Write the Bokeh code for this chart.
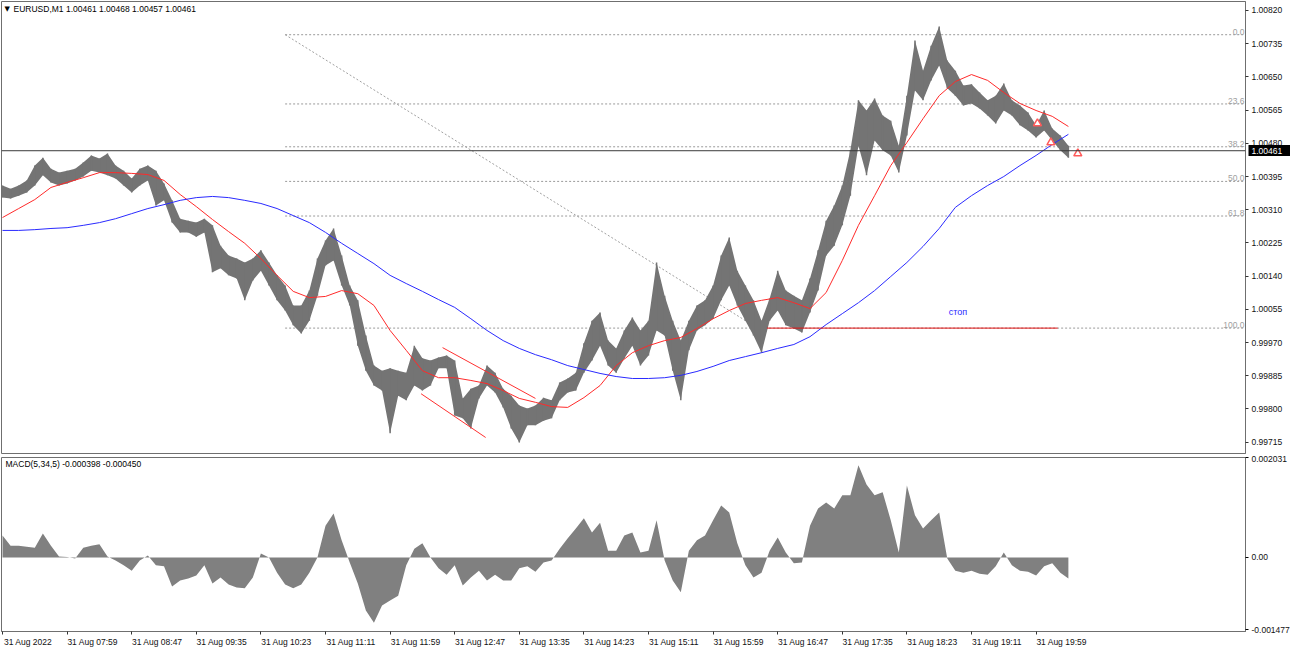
from bokeh.plotting import figure
from bokeh.layouts import column
from bokeh.models import Range1d, FixedTicker, Label, Span, PrintfTickFormatter, LinearAxis
from bokeh.core.properties import value
from bokeh.embed import file_html
from bokeh.resources import INLINE

FONT = "Liberation Sans"

symbol_title = "EURUSD,M1  1.00461 1.00468 1.00457 1.00461"
macd_title = "MACD(5,34,5) -0.000398 -0.000450"

# price samples, one every 6 minutes starting 31 Aug 07:11 (minute index 0)
sample_minutes = 6
bar_high = [
    1.00372, 1.00364, 1.00372, 1.00385, 1.00423, 1.00443, 1.00415, 1.00405, 1.00410, 1.00415,
    1.00431, 1.00449, 1.00441, 1.00454, 1.00423, 1.00410, 1.00390, 1.00415, 1.00423, 1.00410,
    1.00377, 1.00334, 1.00287, 1.00282, 1.00277, 1.00287, 1.00270, 1.00218, 1.00193, 1.00185,
    1.00175, 1.00185, 1.00206, 1.00175, 1.00142, 1.00116, 1.00065, 1.00065, 1.00103, 1.00185,
    1.00231, 1.00262, 1.00193, 1.00116, 1.00078, 0.99988, 0.99911, 0.99898, 0.99904, 0.99898,
    0.99893, 0.99962, 0.99930, 0.99924, 0.99932, 0.99937, 0.99924, 0.99827, 0.99852, 0.99860,
    0.99911, 0.99893, 0.99852, 0.99834, 0.99809, 0.99801, 0.99809, 0.99829, 0.99822, 0.99868,
    0.99878, 0.99893, 0.99968, 1.00026, 1.00047, 0.99975, 0.99955, 1.00001, 1.00034, 1.00001,
    1.00026, 1.00175, 1.00090, 1.00026, 0.99975, 1.00026, 1.00065, 1.00078, 1.00116, 1.00193,
    1.00239, 1.00154, 1.00116, 1.00078, 1.00026, 1.00083, 1.00154, 1.00103, 1.00090, 1.00078,
    1.00134, 1.00206, 1.00282, 1.00321, 1.00372, 1.00462, 1.00590, 1.00564, 1.00595, 1.00551,
    1.00538, 1.00474, 1.00602, 1.00743, 1.00666, 1.00730, 1.00779, 1.00692, 1.00666, 1.00628,
    1.00631, 1.00610, 1.00590, 1.00602, 1.00633, 1.00590, 1.00577, 1.00559, 1.00526, 1.00564,
    1.00518, 1.00500, 1.00474,
]
bar_low = [
    1.00341, 1.00339, 1.00346, 1.00354, 1.00372, 1.00398, 1.00380, 1.00372, 1.00377, 1.00385,
    1.00395, 1.00410, 1.00405, 1.00398, 1.00390, 1.00372, 1.00354, 1.00372, 1.00385, 1.00321,
    1.00334, 1.00277, 1.00252, 1.00252, 1.00241, 1.00252, 1.00150, 1.00160, 1.00142, 1.00134,
    1.00078, 1.00129, 1.00154, 1.00116, 1.00078, 1.00052, 1.00014, 0.99993, 1.00026, 1.00090,
    1.00167, 1.00180, 1.00116, 1.00065, 0.99962, 0.99898, 0.99860, 0.99847, 0.99738, 0.99834,
    0.99822, 0.99860, 0.99847, 0.99860, 0.99904, 0.99904, 0.99783, 0.99776, 0.99750, 0.99827,
    0.99860, 0.99842, 0.99804, 0.99750, 0.99714, 0.99758, 0.99758, 0.99770, 0.99776, 0.99822,
    0.99842, 0.99847, 0.99893, 0.99924, 0.99962, 0.99911, 0.99893, 0.99929, 0.99962, 0.99911,
    0.99937, 1.00001, 0.99988, 0.99898, 0.99822, 0.99950, 1.00001, 1.00014, 1.00031, 1.00078,
    1.00116, 1.00065, 1.00026, 0.99988, 0.99944, 1.00026, 1.00052, 1.00014, 1.00006, 0.99996,
    1.00047, 1.00103, 1.00193, 1.00218, 1.00270, 1.00346, 1.00474, 1.00398, 1.00487, 1.00462,
    1.00449, 1.00405, 1.00500, 1.00615, 1.00590, 1.00641, 1.00679, 1.00621, 1.00602, 1.00577,
    1.00582, 1.00569, 1.00551, 1.00531, 1.00564, 1.00551, 1.00526, 1.00513, 1.00495, 1.00513,
    1.00487, 1.00462, 1.00443,
]

# moving averages, one value every 12 minutes
ma_minutes = 12
ma_red = [
    1.00290, 1.00313, 1.00336, 1.00367, 1.00380, 1.00392, 1.00405, 1.00405, 1.00403, 1.00400,
    1.00385, 1.00349, 1.00318, 1.00285, 1.00254, 1.00224, 1.00185, 1.00142, 1.00101, 1.00085,
    1.00088, 1.00103, 1.00095, 1.00065, 1.00001, 0.99950, 0.99898, 0.99880, 0.99880, 0.99873,
    0.99865, 0.99847, 0.99827, 0.99817, 0.99806, 0.99804, 0.99829, 0.99860, 0.99911, 0.99944,
    0.99962, 0.99975, 0.99983, 1.00006, 1.00031, 1.00052, 1.00070, 1.00078, 1.00085, 1.00072,
    1.00057, 1.00098, 1.00180, 1.00270, 1.00346, 1.00423, 1.00482, 1.00543, 1.00602, 1.00638,
    1.00656, 1.00641, 1.00610, 1.00582, 1.00564, 1.00549, 1.00523,
]
ma_blue = [
    1.00257, 1.00257, 1.00259, 1.00262, 1.00264, 1.00270, 1.00277, 1.00287, 1.00300, 1.00313,
    1.00323, 1.00334, 1.00341, 1.00344, 1.00341, 1.00334, 1.00326, 1.00313, 1.00295, 1.00277,
    1.00252, 1.00224, 1.00198, 1.00172, 1.00142, 1.00121, 1.00101, 1.00080, 1.00060, 1.00031,
    1.00001, 0.99975, 0.99955, 0.99939, 0.99926, 0.99911, 0.99901, 0.99891, 0.99883, 0.99878,
    0.99878, 0.99880, 0.99886, 0.99896, 0.99909, 0.99924, 0.99934, 0.99944, 0.99955, 0.99965,
    0.99985, 1.00016, 1.00044, 1.00072, 1.00103, 1.00139, 1.00175, 1.00216, 1.00262, 1.00316,
    1.00346, 1.00372, 1.00395, 1.00423, 1.00449, 1.00477, 1.00503,
]

# MACD histogram, one value every 6 minutes
macd_hist = [
    0.00045, 0.00024, 0.00024, 0.00022, 0.00020, 0.00049, 0.00024, 0.00002, 0.00001, -0.00002,
    0.00020, 0.00024, 0.00027, 0.00002, -0.00006, -0.00016, -0.00027, -0.00006, 0.00004, -0.00016,
    -0.00018, -0.00059, -0.00047, -0.00043, -0.00037, -0.00016, -0.00053, -0.00041, -0.00055, -0.00061,
    -0.00063, -0.00041, 0.00008, 0.00000, -0.00031, -0.00055, -0.00063, -0.00055, -0.00031, 0.00000,
    0.00065, 0.00090, 0.00035, -0.00010, -0.00053, -0.00108, -0.00133, -0.00098, -0.00088, -0.00078,
    -0.00016, 0.00018, 0.00029, 0.00000, -0.00022, -0.00035, -0.00016, -0.00057, -0.00041, -0.00027,
    -0.00047, -0.00035, -0.00047, -0.00047, -0.00022, -0.00018, -0.00029, -0.00010, -0.00006, 0.00018,
    0.00039, 0.00059, 0.00080, 0.00051, 0.00071, 0.00014, 0.00014, 0.00045, 0.00051, 0.00010,
    0.00014, 0.00076, -0.00006, -0.00047, -0.00071, 0.00014, 0.00035, 0.00045, 0.00076, 0.00106,
    0.00092, 0.00029, -0.00016, -0.00041, -0.00031, 0.00014, 0.00041, 0.00010, -0.00012, -0.00010,
    0.00065, 0.00100, 0.00112, 0.00100, 0.00127, 0.00127, 0.00188, 0.00149, 0.00127, 0.00133,
    0.00076, 0.00010, 0.00147, 0.00086, 0.00059, 0.00076, 0.00092, -0.00002, -0.00027, -0.00031,
    -0.00027, -0.00033, -0.00035, -0.00018, 0.00010, -0.00016, -0.00027, -0.00029, -0.00037, -0.00018,
    -0.00012, -0.00031, -0.00043,
]

time_tick_minutes = [0, 48, 96, 144, 192, 240, 288, 336, 384, 432, 480, 528, 576, 624, 672, 720, 768]
time_tick_labels = ["31 Aug 2022", "31 Aug 07:59", "31 Aug 08:47", "31 Aug 09:35", "31 Aug 10:23",
                    "31 Aug 11:11", "31 Aug 11:59", "31 Aug 12:47", "31 Aug 13:35", "31 Aug 14:23",
                    "31 Aug 15:11", "31 Aug 15:59", "31 Aug 16:47", "31 Aug 17:35", "31 Aug 18:23",
                    "31 Aug 19:11", "31 Aug 19:59"]
price_ticks = [1.00820, 1.00735, 1.00650, 1.00565, 1.00480, 1.00395, 1.00310, 1.00225,
               1.00140, 1.00055, 0.99970, 0.99885, 0.99800, 0.99715]
macd_ticks = [0.002031, 0.0, -0.001477]
macd_tick_labels = ["0.002031", "0.00", "-0.001477"]
last_price = 1.00461

# Fibonacci retracement anchors (minute, price)
fib_t0, fib_p0 = 210, 1.00758
fib_t1, fib_p1 = 561, 1.00007
fib_levels = [0.0, 23.6, 38.2, 50.0, 61.8, 100.0]
fib_labels = ["0.0", "23.6", "38.2", "50.0", "61.8", "100.0"]

# stop line and text
stop_t0, stop_t1, stop_price = 568, 784, 1.00007
stop_text_t, stop_text_p = 710, 1.00047

# hand-drawn red channel lines
chan_t0 = [327, 311]
chan_p0 = [0.99957, 0.99839]
chan_t1 = [396, 359]
chan_p1 = [0.99827, 0.99727]

# arrow signals
arrow_t = [769, 779, 799]
arrow_p = [1.00531, 1.00482, 1.00454]

X0, X1 = -0.75, 923.6
LABEL_SHIFT = 19  # minutes: left-aligned time labels start at their tick
bar_t = [i * sample_minutes for i in range(len(bar_high))]
ma_t = [i * ma_minutes for i in range(len(ma_red))]

BORDER = "#6f6f6f"
BAR = "#747474"

p = figure(frame_width=1244, frame_height=452, x_range=Range1d(X0, X1),
           y_range=Range1d(0.99686, 1.00843), output_backend="svg", toolbar_location=None,
           x_axis_location=None, y_axis_location="right",
           min_border_left=1, min_border_right=45, min_border_top=1, min_border_bottom=2,
           background_fill_color="white", border_fill_color="white",
           outline_line_color=BORDER, outline_line_width=1)
p.grid.visible = False
ya = p.yaxis[0]
ya.ticker = FixedTicker(ticks=price_ticks)
ya.formatter = PrintfTickFormatter(format="%.5f")
ya.major_tick_in = 0
ya.major_tick_out = 3
ya.minor_tick_in = 0
ya.minor_tick_out = 0
ya.axis_line_color = BORDER
ya.major_tick_line_color = "#333333"
ya.major_label_text_font = FONT
ya.major_label_text_font_size = "8.5px"
ya.major_label_text_color = "#111111"
ya.major_label_standoff = 3

# current price marker on the price scale: a second axis stacked after the first,
# whose tick reaches back to the frame edge and whose label is pulled back over it
cur_axis = LinearAxis(ticker=FixedTicker(ticks=[last_price]),
                      formatter=PrintfTickFormatter(format="%.5f"),
                      axis_line_color=None, major_tick_in=37, major_tick_out=7,
                      major_tick_line_width=11, major_tick_line_color="black",
                      minor_tick_line_color=None, major_tick_line_cap="butt",
                      major_label_standoff=-41,
                      major_label_text_color="white", major_label_text_font=FONT,
                      major_label_text_font_size="8.5px")
p.add_layout(cur_axis, "right")

# Fibonacci
fib_prices = [fib_p0 - lv / 100.0 * (fib_p0 - fib_p1) for lv in fib_levels]
p.segment(x0=[fib_t0] * len(fib_prices), y0=fib_prices, x1=[X1] * len(fib_prices), y1=fib_prices,
          line_color="#9a9a9a", line_dash="2 2", line_width=1)
p.segment(x0=[fib_t0], y0=[fib_p0], x1=[fib_t1], y1=[fib_p1],
          line_color="#a0a0a0", line_dash="2 2", line_width=1)
p.text(x=[X1 - 0.7] * len(fib_prices), y=fib_prices, text=fib_labels, text_align="right",
       text_baseline="bottom", text_font=value(FONT), text_font_size="8.5px", text_color="#a0a0a0")

# price bars
p.varea(x=bar_t, y1=bar_low, y2=bar_high, fill_color=BAR)
p.segment(x0=bar_t, y0=bar_low, x1=bar_t, y1=bar_high, line_color=BAR, line_width=1.5)

# moving averages
p.line(ma_t, ma_red, line_color="#ff2a2a", line_width=1)
p.line(ma_t, ma_blue, line_color="#2a2aff", line_width=1)

# channel lines
p.segment(x0=chan_t0, y0=chan_p0, x1=chan_t1, y1=chan_p1, line_color="#ff3030", line_width=1)

# stop
p.segment(x0=[stop_t0], y0=[stop_price], x1=[stop_t1], y1=[stop_price], line_color="#e01010", line_width=1)
p.text(x=[stop_text_t], y=[stop_text_p], text=["стоп"], text_align="center", text_baseline="middle",
       text_font=value(FONT), text_font_size="9px", text_color="#2a2aff")

# arrows
p.scatter(x=arrow_t, y=arrow_p, marker="triangle", size=8, line_color="#ff5a5a", line_width=1.5,
          fill_color="white")

# current price line
p.add_layout(Span(location=last_price, dimension="width", line_color="#3a3a3a", line_width=1))

p.add_layout(Label(x=3, y=445, x_units="screen", y_units="screen", text="▼", text_font="DejaVu Sans",
                   text_font_size="7px", text_baseline="middle", text_color="black"))
p.add_layout(Label(x=12, y=445, x_units="screen", y_units="screen", text=symbol_title, text_font=FONT,
                   text_font_size="8.5px", text_baseline="middle", text_color="black"))

# MACD panel
q = figure(frame_width=1244, frame_height=174, x_range=p.x_range,
           y_range=Range1d(-0.00151, 0.00204), output_backend="svg", toolbar_location=None,
           x_axis_location=None, y_axis_location="right",
           min_border_left=1, min_border_right=45, min_border_top=2, min_border_bottom=16,
           background_fill_color="white", border_fill_color="white",
           outline_line_color=BORDER, outline_line_width=1)
q.grid.visible = False
q.varea(x=bar_t, y1=[0.0] * len(macd_hist), y2=macd_hist, fill_color="#808080")

qa = q.yaxis[0]
qa.ticker = FixedTicker(ticks=macd_ticks)
qa.major_label_overrides = {t: s for t, s in zip(macd_ticks, macd_tick_labels)}
qa.major_tick_in = 0
qa.major_tick_out = 3
qa.minor_tick_in = 0
qa.minor_tick_out = 0
qa.axis_line_color = BORDER
qa.major_label_text_font = FONT
qa.major_label_text_font_size = "8.5px"
qa.major_label_text_color = "#111111"
qa.major_label_standoff = 3

# time axis: tick marks (minor) at the bar times, labels placed to start at their tick
label_pos = [t + LABEL_SHIFT for t in time_tick_minutes]
xb = LinearAxis(ticker=FixedTicker(ticks=label_pos, minor_ticks=time_tick_minutes),
                major_label_overrides={t: s for t, s in zip(label_pos, time_tick_labels)},
                axis_line_color=BORDER, major_tick_line_color=None,
                minor_tick_line_color="#333333", minor_tick_in=0, minor_tick_out=3,
                major_tick_in=0, major_tick_out=3,
                major_label_standoff=2, major_label_text_font=FONT, major_label_text_font_size="8.5px",
                major_label_text_color="#111111")
q.add_layout(xb, "below")

q.add_layout(Label(x=4, y=168, x_units="screen", y_units="screen", text=macd_title, text_font=FONT,
                   text_font_size="8.5px", text_baseline="middle", text_color="black"))

layout = column(p, q, spacing=0)
open("out.html", "w").write(file_html(layout, INLINE))
